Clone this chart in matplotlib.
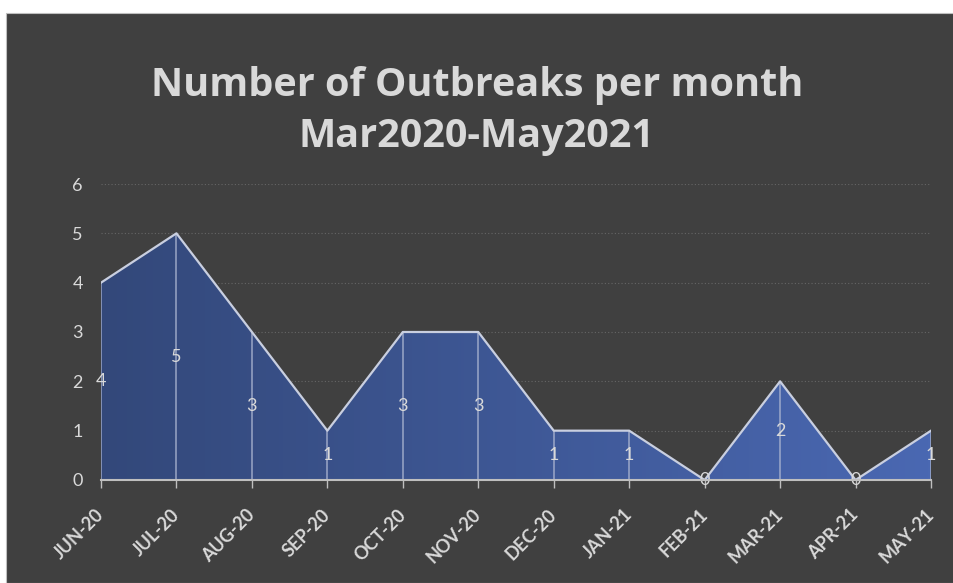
import matplotlib
matplotlib.use("Agg")
import matplotlib.pyplot as plt
import numpy as np
from matplotlib.colors import LinearSegmentedColormap
from matplotlib.patches import Polygon, Rectangle

months = ["JUN-20", "JUL-20", "AUG-20", "SEP-20", "OCT-20", "NOV-20",
          "DEC-20", "JAN-21", "FEB-21", "MAR-21", "APR-21", "MAY-21"]
outbreaks = [4, 5, 3, 1, 3, 3, 1, 1, 0, 2, 0, 1]
title = "Number of Outbreaks per month\nMar2020-May2021"

bg = "#404040"
fg = "#d9d9d9"
plt.rcParams["font.family"] = ["Lato", "DejaVu Sans"]

fig = plt.figure(figsize=(9.54, 5.83), dpi=100)
fig.patch.set_facecolor("white")
# dark chart panel
fig.patches.append(Rectangle((6 / 954, 0), 1, 570 / 583, transform=fig.transFigure,
                             facecolor=bg, edgecolor="#bfbfbf", lw=0.8, zorder=-10))

ax = fig.add_axes([101 / 954, 103 / 583, 830 / 954, 296 / 583])
ax.set_facecolor("none")
x = np.arange(len(months))
y = np.array(outbreaks)

# gradient fill clipped to the area
verts = list(zip(x, y)) + [(x[-1], 0), (x[0], 0)]
poly = Polygon(verts, closed=True, facecolor="none", edgecolor="none")
ax.add_patch(poly)
cmap = LinearSegmentedColormap.from_list("g", ["#33487a", "#4a68b2"])
grad = np.linspace(0, 1, 256).reshape(1, -1)
im = ax.imshow(grad, cmap=cmap, aspect="auto", extent=(0, 11, 0, 6),
               origin="lower", zorder=2)
im.set_clip_path(poly)

ax.plot(x, y, color="#c9cfe0", lw=1.6, zorder=4)
ax.vlines(x, 0, y, color="#aab4d0", lw=1.2, alpha=0.8, zorder=3)

for xi, yi in zip(x, y):
    ax.text(xi, yi / 2, str(yi), color=fg, fontsize=13, ha="center", va="center", zorder=5)

ax.set_xlim(0, 11)
ax.set_ylim(0, 6)
ax.set_yticks(range(7))
ax.yaxis.grid(True, color="#666666", ls=(0, (1, 2)), lw=0.8)
ax.set_axisbelow(True)
for s in ["top", "right", "left"]:
    ax.spines[s].set_visible(False)
ax.spines["bottom"].set_color("#bfbfbf")
ax.spines["bottom"].set_linewidth(1.5)
ax.spines["bottom"].set_zorder(6)
ax.tick_params(axis="y", length=0, colors=fg, labelsize=13, pad=13)
ax.tick_params(axis="x", length=6, width=1, color="#bfbfbf", colors=fg, pad=17)
ax.set_xticks(x)
ax.set_xticklabels(months, rotation=45, ha="right", va="center", rotation_mode="anchor",
                   fontsize=13, fontweight="bold", color=fg)

fig.text(0.5, 1 - 111 / 583, title, color=fg, fontsize=28.5, fontweight="bold",
         family=["Open Sans", "DejaVu Sans"],
         ha="center", va="center", linespacing=1.4)

fig.savefig("out.png", dpi=100, facecolor=fig.get_facecolor())
